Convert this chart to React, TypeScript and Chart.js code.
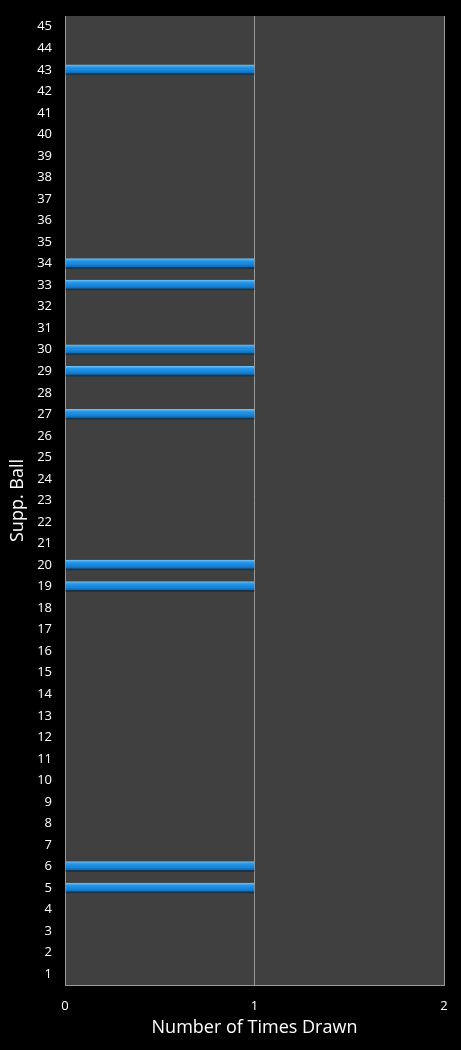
import { useEffect, useRef } from 'react';
import Chart from 'chart.js/auto';

const balls = Array.from({ length: 45 }, (_, i) => String(i + 1));
const timesDrawn = [
  0, 0, 0, 0, 1, 1, 0, 0, 0, 0,
  0, 0, 0, 0, 0, 0, 0, 0, 1, 1,
  0, 0, 0, 0, 0, 0, 1, 0, 1, 1,
  0, 0, 1, 1, 0, 0, 0, 0, 0, 0,
  0, 0, 1, 0, 0,
];
const xTicks = [0, 1, 2];

const plotBg = {
  id: 'plotBg',
  beforeDraw(chart: any) {
    const { ctx, chartArea } = chart;
    ctx.save();
    ctx.fillStyle = '#404040';
    ctx.fillRect(chartArea.left, chartArea.top, chartArea.right - chartArea.left, chartArea.bottom - chartArea.top);
    ctx.restore();
  },
};

const App = () => {
  const chartRef = useRef<HTMLCanvasElement>(null);

  useEffect(() => {
    if (!chartRef.current) return;

    const chartInstance = new Chart(chartRef.current, {
      type: 'bar',
      data: {
        labels: balls,
        datasets: [
          {
            label: 'Number of Times Drawn',
            data: timesDrawn,
            backgroundColor: (c: any) => {
              const yScale = c.chart.scales?.y;
              const y = yScale ? yScale.getPixelForValue(c.dataIndex) : NaN;
              if (!Number.isFinite(y)) return '#1f8fe2';
              const g = c.chart.ctx.createLinearGradient(0, y - 5, 0, y + 4);
              g.addColorStop(0, '#6cc0f6');
              g.addColorStop(0.25, '#2596e8');
              g.addColorStop(0.7, '#1580d6');
              g.addColorStop(1, '#0f5f9e');
              return g;
            },
            borderColor: '#1b3446',
            borderWidth: { bottom: 2, top: 0, left: 0, right: 0 },
            borderSkipped: false,
            barPercentage: 0.5,
            categoryPercentage: 1,
          },
        ],
      },
      options: {
        indexAxis: 'y',
        responsive: false,
        animation: false,
        layout: { padding: { top: 16, right: 17, bottom: 11, left: 7 } },
        plugins: {
          legend: { display: false },
          tooltip: { enabled: false },
        },
        scales: {
          x: {
            min: 0,
            max: 2,
            afterBuildTicks: (axis: any) => {
              axis.ticks = xTicks.map((v) => ({ value: v }));
            },
            afterFit: (axis: any) => {
              axis.height = 54;
            },
            ticks: {
              color: 'white',
              font: { family: 'Open Sans', size: 13 },
              padding: 13,
            },
            grid: {
              color: '#9a9a9a',
              lineWidth: 1,
              drawTicks: false,
            },
            border: { display: true, color: '#9a9a9a' },
            title: {
              display: true,
              text: 'Number of Times Drawn',
              color: 'white',
              font: { family: 'Open Sans', size: 18 },
              padding: { top: 0, bottom: 0 },
            },
          },
          y: {
            reverse: true,
            afterFit: (axis: any) => {
              axis.width = 58;
              axis.paddingTop = 0;
              axis.paddingBottom = 0;
            },
            ticks: {
              color: 'white',
              font: { family: 'Open Sans', size: 13 },
              padding: 13,
              autoSkip: false,
            },
            grid: { display: false, drawTicks: false },
            border: { display: true, color: '#9a9a9a' },
            title: {
              display: true,
              text: 'Supp. Ball',
              color: 'white',
              font: { family: 'Open Sans', size: 18 },
              padding: { top: 0, bottom: 0 },
            },
          },
        },
      },
      plugins: [plotBg],
    });

    return () => {
      chartInstance.destroy();
    };
  }, []);

  return (
    <div style={{ position: 'absolute', left: 0, top: 0, width: 461, height: 1050, background: '#000' }}>
      <canvas ref={chartRef} width={461} height={1050} style={{ display: 'block', width: 461, height: 1050 }}></canvas>
    </div>
  );
};

export default App;
